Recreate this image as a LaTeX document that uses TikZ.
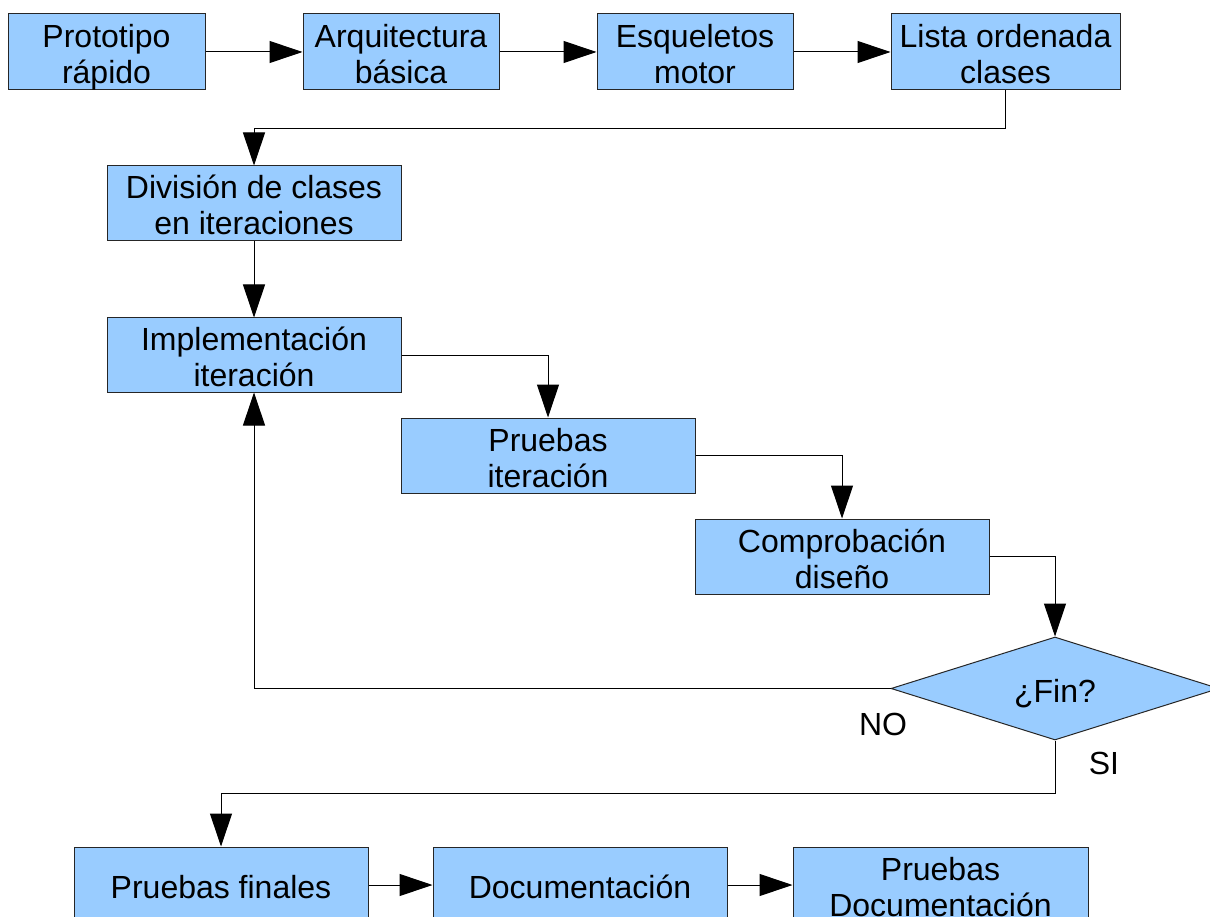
\documentclass[tikz,border=0pt]{standalone}
\usepackage{fontspec}
\setmainfont{Liberation Sans}
\usetikzlibrary{arrows.meta,shapes.geometric}
\newcommand\hst{\rule{0pt}{32.5pt}}
\newcommand\dst{\rule[-5.5pt]{0pt}{5.5pt}}
\newcommand\twol[2]{\hst\smash{#1}\\\smash{#2}\dst}
\newcommand\onel[1]{\hst\smash{#1}\dst}
\begin{document}
\begin{tikzpicture}[x=1pt,y=-1pt,
  box/.style={draw=black!85,fill=boxblue,line width=1pt,inner sep=0pt,align=center,
    font=\fontsize{32}{36}\selectfont},
  decision/.style={diamond,draw=black!85,fill=boxblue,line width=1pt,inner sep=0pt,
    aspect=3.18,minimum width=328pt,minimum height=103pt,font=\fontsize{32}{36}\selectfont},
  conn/.style={line width=1pt,draw=black,-{Triangle[length=33pt,width=22pt]}},
  lbl/.style={inner sep=0pt,font=\fontsize{32}{36}\selectfont}]
\definecolor{boxblue}{HTML}{99CCFF}
\useasboundingbox (0,0) rectangle (1210,917);
\clip (0,0) rectangle (1210,917);
\fill[white] (0,0) rectangle (1210,917);
% top row
\node[box,minimum width=197pt,minimum height=76pt] (proto) at (106.5,52) {\twol{Prototipo}{rápido}};
\node[box,minimum width=196pt,minimum height=76pt] (arq) at (401,52) {\twol{Arquitectura}{básica}};
\node[box,minimum width=196pt,minimum height=76pt] (esq) at (695,52) {\twol{Esqueletos}{motor}};
\node[box,minimum width=229pt,minimum height=76pt] (lista) at (1005.5,52) {\twol{Lista ordenada}{clases}};
% middle
\node[box,minimum width=294pt,minimum height=75pt] (div) at (254,203.5) {\twol{División de clases}{en iteraciones}};
\node[box,minimum width=294pt,minimum height=74pt] (impl) at (254,355) {\twol{Implementación}{iteración}};
\node[box,minimum width=294pt,minimum height=75pt] (pit) at (548,455.5) {\twol{Pruebas}{iteración}};
\node[box,minimum width=294pt,minimum height=75pt] (comp) at (842,556.5) {\twol{Comprobación}{diseño}};
\node[decision] (fin) at (1055,688.5) {\onel{¿Fin?}};
% bottom row
\node[box,minimum width=294pt,minimum height=76pt] (pf) at (221,885) {\onel{Pruebas finales}};
\node[box,minimum width=294pt,minimum height=76pt] (doc) at (580,885) {\onel{Documentación}};
\node[box,minimum width=295pt,minimum height=76pt] (pdoc) at (940.5,885) {\twol{Pruebas}{Documentación}};
% labels
\node[lbl] (no) at (883,724) {NO};
\node[lbl] (si) at (1104,763) {SI};
% connectors
\draw[conn] (proto) -- (arq);
\draw[conn] (arq) -- (esq);
\draw[conn] (esq) -- (lista);
\draw[conn] (lista.south) -- ++(0,38) -| (div.north);
\draw[conn] (div) -- (impl);
\draw[conn] (impl.east) -| (pit.north);
\draw[conn] (pit.east) -| (comp.north);
\draw[conn] (comp.east) -| (fin.north);
\draw[conn] (fin.west) -| (impl.south);
\draw[conn] (fin.south) -- ++(0,53) -| (pf.north);
\draw[conn] (pf) -- (doc);
\draw[conn] (doc) -- (pdoc);
\end{tikzpicture}
\end{document}
